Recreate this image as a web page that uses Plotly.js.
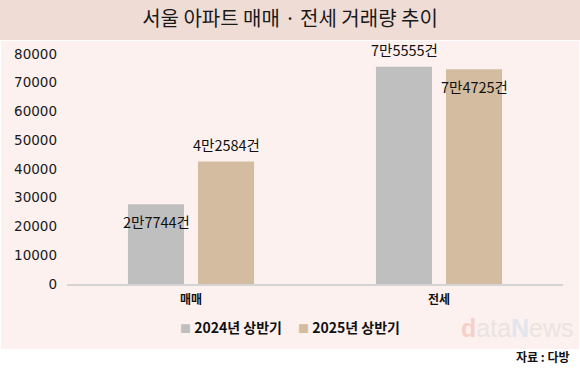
<!DOCTYPE html>
<html>
<head>
<meta charset="utf-8">
<script src="https://cdn.plot.ly/plotly-3.0.1.min.js"></script>
<style>
  html, body { margin: 0; padding: 0; background: #ffffff; }
  #wrap { position: relative; width: 580px; height: 376px; overflow: hidden; }
  #band { position: absolute; left: 0; top: 0; width: 580px; height: 40px; background: #efdcd5; }
  #area { position: absolute; left: 1px; top: 41px; width: 578px; height: 308px; background: #fcf1ee; }
  #chart { position: absolute; left: 0; top: 0; width: 580px; height: 376px; }
</style>
</head>
<body>
<div id="wrap">
  <div id="band"></div>
  <div id="area"></div>
  <div id="chart"></div>
</div>
<script>
const categories = ['매매', '전세'];
const seriesNames = ['2024년 상반기', '2025년 상반기'];
const values2024 = [27744, 75555];
const values2025 = [42584, 74725];
const labelPos2024 = ['inside', 'outside'];
const labelPos2025 = ['outside', 'inside'];
const yTicks = [0, 10000, 20000, 30000, 40000, 50000, 60000, 70000, 80000];
const colors = ['#bfbfbf', '#d3bc9f'];

const FONT = '"Noto Sans CJK KR", "Noto Sans", sans-serif';
const NUMFONT = '"DejaVu Sans", sans-serif';

function fmt(v) {
  const man = Math.floor(v / 10000);
  const rest = v % 10000;
  return man + '만' + rest + '건';
}

const series = [values2024, values2025];
const positions = [labelPos2024, labelPos2025];

const traces = series.map((vals, i) => ({
  type: 'bar',
  name: seriesNames[i],
  x: categories,
  y: vals,
  marker: { color: colors[i] },
  hoverinfo: 'none',
  showlegend: false
}));

const annotations = [];
series.forEach((vals, i) => {
  vals.forEach((v, j) => {
    annotations.push({
      x: categories[j], y: v, xref: 'x', yref: 'y',
      text: fmt(v), showarrow: false,
      xshift: i === 0 ? -35 : 35,
      yshift: positions[i][j] === 'outside' ? 17 : -17,
      yanchor: 'middle', xanchor: 'center',
      font: { family: FONT, size: 14.5, color: '#111111' }
    });
  });
});

// legend as text items
const legendX = [0.223, 0.462];
seriesNames.forEach((n, i) => {
  annotations.push({
    xref: 'paper', yref: 'paper', x: legendX[i], y: -0.187,
    xanchor: 'left', yanchor: 'middle', showarrow: false,
    text: '<span style="color:' + colors[i] + ';font-size:11px">■</span> ' + n,
    font: { family: FONT, size: 14, color: '#111111', weight: 'bold' }
  });
});

// source
annotations.push({
  xref: 'paper', yref: 'paper', x: 1.018, y: -0.317,
  xanchor: 'right', yanchor: 'middle', showarrow: false,
  text: '자료 : 다방',
  font: { family: FONT, size: 12, color: '#111111', weight: 'bold' }
});

// watermark
annotations.push({
  xref: 'paper', yref: 'paper', x: 1.026, y: -0.19,
  xanchor: 'right', yanchor: 'middle', showarrow: false,
  text: '<span style="color:#f6d0c8;font-weight:bold">d</span><span style="color:#ebe3e3">ata</span><span style="color:#e0e5ee;font-weight:bold">N</span><span style="color:#ebe3e3">ews</span>',
  font: { family: 'Liberation Sans, Arial, sans-serif', size: 25 }
});

const layout = {
  width: 580, height: 376,
  margin: { l: 67, r: 17, t: 54, b: 92 },
  paper_bgcolor: 'rgba(0,0,0,0)',
  plot_bgcolor: 'rgba(0,0,0,0)',
  barmode: 'group',
  bargap: 0.435,
  bargroupgap: 0.2,
  title: {
    text: '서울 아파트 매매 · 전세 거래량 추이',
    x: 290 / 580, xanchor: 'center', xref: 'container',
    y: 1 - 19 / 376, yref: 'container', yanchor: 'middle',
    font: { family: FONT, size: 20, color: '#1a1a1a' }
  },
  xaxis: {
    type: 'category',
    showline: true, linecolor: '#d4d4d4', linewidth: 1.5,
    ticks: '', showgrid: false,
    tickfont: { family: FONT, size: 12, color: '#111111', weight: 'bold' },
    ticklabelstandoff: 4
  },
  yaxis: {
    range: [0, 80000],
    tickvals: yTicks,
    ticktext: yTicks.map(String),
    showgrid: false, zeroline: false, showline: false, ticks: '',
    tickfont: { family: NUMFONT, size: 13.5, color: '#1a1a1a' },
    ticklabelstandoff: 9
  },
  annotations: annotations,
  showlegend: false
};

Plotly.newPlot('chart', traces, layout, { displayModeBar: false, staticPlot: true });
</script>
</body>
</html>
